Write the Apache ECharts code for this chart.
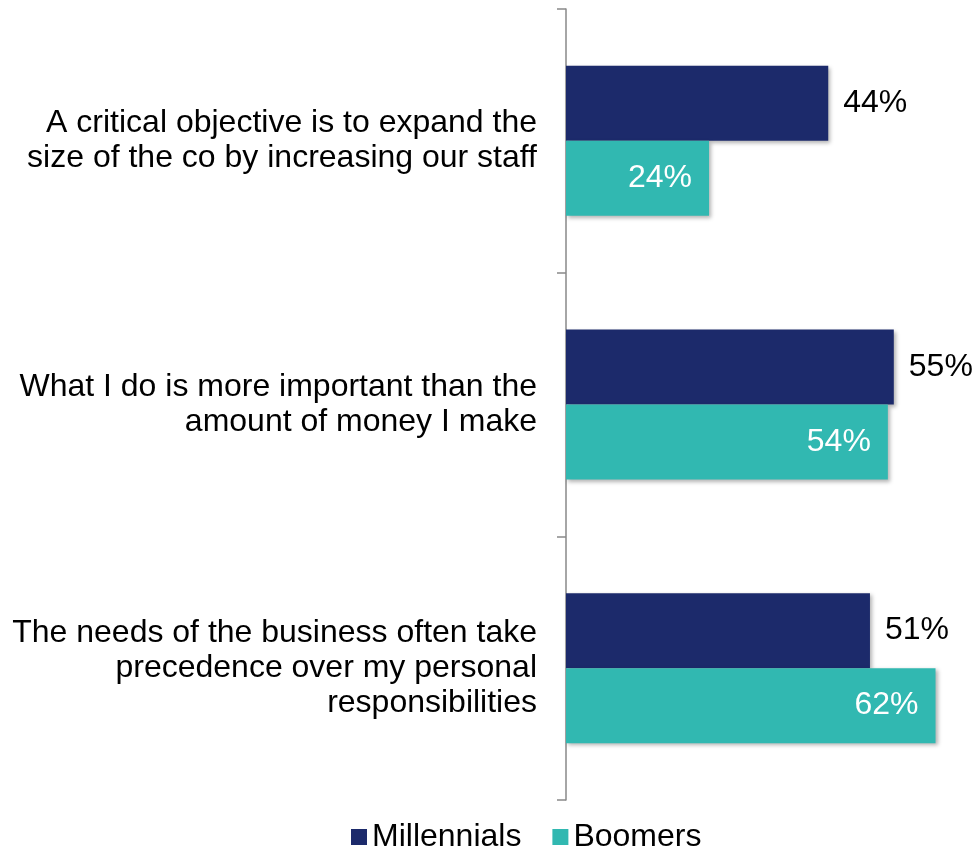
<!DOCTYPE html>
<html>
<head>
<meta charset="utf-8">
<script src="https://cdn.jsdelivr.net/npm/echarts@6/dist/echarts.min.js"></script>
<style>
  html, body { margin: 0; padding: 0; background: #fff; }
  #chart { width: 976px; height: 850px; }
</style>
</head>
<body>
<div id="chart"></div>
<script>
// Survey statements (top to bottom) and the share agreeing in each group
const categories = [
  'A critical objective is to expand the\nsize of the co by increasing our staff',
  'What I do is more important than the\namount of money I make',
  'The needs of the business often take\nprecedence over my personal\nresponsibilities'
];
const millennials = [44, 55, 51];
const boomers = [24, 54, 62];
const seriesNames = ['Millennials', 'Boomers'];

const FONT = '"Liberation Sans", Arial, sans-serif';
const FONT_SIZE = 32;
const barShadow = {
  shadowBlur: 4,
  shadowOffsetX: 2,
  shadowOffsetY: 2,
  shadowColor: 'rgba(0,0,0,0.3)'
};

const chart = echarts.init(document.getElementById('chart'), null, { renderer: 'canvas' });
chart.setOption({
  backgroundColor: '#ffffff',
  animation: false,
  textStyle: { fontFamily: FONT },
  grid: { left: 566, top: 9, width: 387.4, height: 791, containLabel: false },
  legend: {
    data: seriesNames,
    left: 351,
    top: 821,
    padding: 0,
    itemWidth: 16,
    itemHeight: 16,
    itemGap: 31,
    icon: 'rect',
    textStyle: { fontSize: FONT_SIZE, color: '#000', fontFamily: FONT, lineHeight: 32 }
  },
  xAxis: {
    type: 'value',
    min: 0,
    max: 65,
    show: false
  },
  yAxis: {
    type: 'category',
    data: categories,
    inverse: true,
    axisLine: { show: true, lineStyle: { color: '#898989', width: 1.5 } },
    axisTick: { show: true, length: 9, lineStyle: { color: '#898989', width: 1.5 } },
    axisLabel: {
      fontSize: FONT_SIZE,
      lineHeight: 35,
      color: '#000',
      fontFamily: FONT,
      margin: 29,
      align: 'right'
    },
    splitLine: { show: false }
  },
  series: [
    {
      name: seriesNames[0],
      type: 'bar',
      data: millennials,
      barWidth: 75,
      barGap: '0%',
      itemStyle: Object.assign({ color: '#1c2a6b' }, barShadow),
      label: {
        show: true,
        position: 'right',
        distance: 15,
        formatter: '{c}%',
        fontSize: FONT_SIZE,
        color: '#000',
        fontFamily: FONT
      }
    },
    {
      name: seriesNames[1],
      type: 'bar',
      data: boomers,
      barWidth: 75,
      barGap: '0%',
      itemStyle: Object.assign({ color: '#31b8b1' }, barShadow),
      label: {
        show: true,
        position: 'insideRight',
        distance: 17,
        formatter: '{c}%',
        fontSize: FONT_SIZE,
        color: '#fff',
        fontFamily: FONT
      }
    }
  ]
});
</script>
</body>
</html>
